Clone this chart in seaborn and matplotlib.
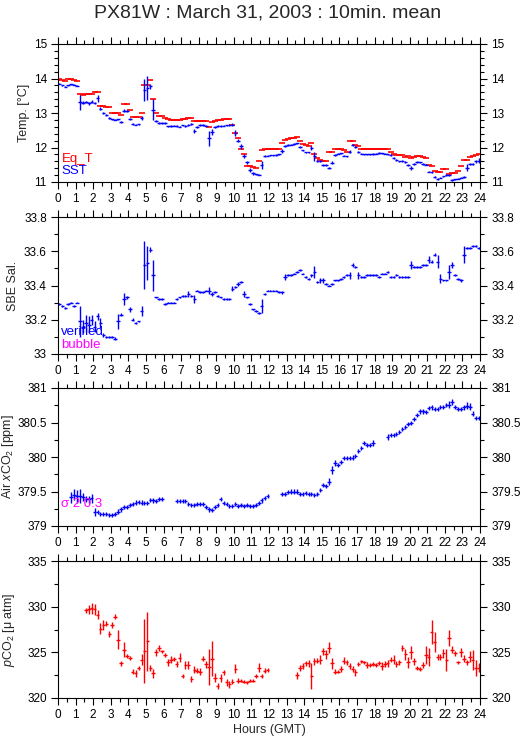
import numpy as np
import pandas as pd
import matplotlib
matplotlib.use("Agg")
import matplotlib.pyplot as plt
import seaborn as sns
from matplotlib.ticker import MultipleLocator

nan = np.nan

# 10-minute slots, one row per hour (6 values: hh:05 ... hh:55)
sst = [
    [13.85, 13.80, 13.76, 13.80, 13.83, 13.82],
    [13.79, 13.31, 13.30, 13.32, 13.28, 13.33],
    [13.29, 13.43, 13.13, 12.99, 12.95, 12.85],
    [12.82, 12.81, 12.82, 12.73, 13.07, 13.07],
    [12.82, 12.67, 12.66, 12.67, 12.85, 13.67],
    [13.72, 13.77, 13.10, 12.78, 12.71, 12.71],
    [12.71, 12.61, 12.62, 12.63, 12.62, 12.60],
    [12.64, 12.62, 12.66, 12.68, 12.48, 12.60],
    [12.65, 12.65, 12.63, 12.27, 12.45, 12.60],
    [12.62, 12.62, 12.63, 12.64, 12.65, 12.66],
    [12.42, 12.20, 12.03, 11.76, 11.57, 11.35],
    [11.25, 11.22, 11.21, 11.50, 11.76, 11.76],
    [11.77, 11.77, 11.78, 11.80, 11.90, 12.05],
    [12.07, 12.08, 12.10, 12.12, 12.02, 11.92],
    [11.86, 11.86, 11.98, 11.74, 11.62, 11.60],
    [11.50, 11.48, 11.40, 11.56, 11.78, 11.82],
    [11.83, 11.76, 11.74, 11.88, 12.07, 12.02],
    [11.88, 11.82, 11.80, 11.80, 11.80, 11.81],
    [11.82, 11.84, 11.83, 11.82, 11.80, 11.78],
    [11.70, 11.64, 11.60, 11.60, 11.58, 11.50],
    [11.40, 11.52, 11.57, 11.57, 11.52, 11.50],
    [11.30, 11.28, 11.15, 11.10, 11.13, 11.16],
    [11.20, 11.20, 11.07, 11.08, 11.10, 11.13],
    [11.14, 11.42, 11.52, 11.53, 11.60, 11.62],
]
sst_sd = [
    [.02, .02, .02, .02, .02, .02],
    [.02, .22, .05, .04, .04, .05],
    [.04, .10, .04, .03, .03, .03],
    [.02, .02, .02, .03, .05, .03],
    [.03, .03, .02, .02, .06, .32],
    [.35, .08, .30, .03, .03, .02],
    [.02, .02, .02, .02, .02, .02],
    [.02, .02, .03, .02, .06, .03],
    [.02, .02, .02, .22, .08, .03],
    [.02, .02, .02, .02, .02, .05],
    [.08, .05, .06, .06, .05, .05],
    [.04, .02, .02, .12, .03, .02],
    [.02, .02, .02, .02, .05, .03],
    [.02, .02, .02, .02, .02, .02],
    [.02, .02, .06, .12, .03, .03],
    [.03, .03, .03, .05, .04, .02],
    [.02, .02, .02, .05, .03, .03],
    [.03, .02, .02, .02, .02, .02],
    [.02, .02, .02, .02, .02, .02],
    [.02, .03, .02, .03, .03, .03],
    [.06, .03, .03, .02, .02, .02],
    [.02, .02, .03, .03, .02, .02],
    [.02, .02, .03, .02, .02, .02],
    [.03, .10, .04, .03, .04, .08],
]
eq_t = [
    [14.00, 13.95, 13.93, 14.00, 13.98, 13.97],
    [13.94, 13.55, 13.52, 13.55, 13.55, 13.55],
    [13.60, 13.60, 13.20, 13.20, 13.16, 13.16],
    [12.99, 13.01, 13.01, 12.94, 13.25, 13.25],
    [13.10, 12.88, 12.88, 12.88, 13.00, 13.80],
    [13.80, 13.95, 13.40, 13.00, 12.90, 12.90],
    [12.85, 12.83, 12.80, 12.80, 12.81, 12.80],
    [12.82, 12.82, 12.85, 12.85, 12.78, 12.78],
    [12.78, 12.76, 12.76, 12.58, 12.75, 12.78],
    [12.80, 12.80, 12.82, 12.82, 12.82, 12.65],
    [12.42, 12.27, 11.97, 11.80, 11.47, 11.45],
    [11.43, 11.42, 11.62, 11.93, 11.95, 11.95],
    [11.95, 11.95, 11.96, 11.97, 12.14, 12.22],
    [12.25, 12.27, 12.28, 12.30, 12.20, 12.10],
    [12.08, 12.04, 12.12, 11.81, 11.69, 11.65],
    [11.62, 11.62, 11.88, 11.88, 11.97, 11.97],
    [11.97, 11.92, 11.88, 12.20, 12.20, 12.08],
    [12.03, 11.95, 11.95, 11.95, 11.95, 11.97],
    [11.97, 11.97, 11.97, 11.97, 11.97, 11.88],
    [11.81, 11.78, 11.78, 11.78, 11.72, 11.76],
    [11.69, 11.72, 11.75, 11.75, 11.72, 11.69],
    [11.50, 11.45, 11.33, 11.28, 11.30, 11.37],
    [11.37, 11.23, 11.27, 11.27, 11.33, 11.45],
    [11.65, 11.65, 11.72, 11.76, 11.78, 11.81],
]
sal = [
    [33.29, 33.28, 33.27, 33.29, 33.30, 33.28],
    [33.30, 33.19, 33.16, 33.18, 33.17, 33.20],
    [33.16, 33.22, 33.18, 33.11, 33.10, 33.10],
    [33.10, 33.09, 33.19, 33.23, 33.32, 33.33],
    [33.26, 33.20, 33.18, 33.19, 33.25, 33.52],
    [33.53, 33.61, 33.46, 33.33, 33.32, 33.32],
    [33.29, 33.30, 33.30, 33.30, 33.32, 33.33],
    [33.34, 33.34, 33.35, 33.34, 33.32, 33.37],
    [33.36, 33.36, 33.37, 33.37, 33.35, 33.36],
    [33.34, 33.33, 33.32, 33.32, 33.32, 33.38],
    [33.39, 33.41, 33.42, 33.35, 33.33, 33.29],
    [33.26, 33.25, 33.24, 33.28, 33.35, 33.37],
    [33.37, 33.37, 33.37, 33.36, 33.36, 33.45],
    [33.46, 33.46, 33.47, 33.48, 33.49, 33.47],
    [33.45, 33.44, 33.46, 33.48, 33.42, 33.43],
    [33.43, 33.41, 33.40, 33.41, 33.43, 33.43],
    [33.44, 33.45, 33.46, 33.46, 33.52, 33.51],
    [33.46, 33.45, 33.45, 33.46, 33.46, 33.46],
    [33.46, 33.45, 33.47, 33.47, 33.48, 33.45],
    [33.45, 33.46, 33.45, 33.45, 33.45, 33.45],
    [33.52, 33.51, 33.51, 33.51, 33.52, 33.52],
    [33.55, 33.54, 33.58, 33.54, 33.44, 33.43],
    [33.43, 33.48, 33.52, 33.46, 33.44, 33.43],
    [33.58, 33.62, 33.62, 33.63, 33.63, 33.62],
]
sal_sd = [
    [.005, .005, .005, .005, .005, .005],
    [.005, .090, .040, .050, .050, .030],
    [.030, .020, .030, .010, .005, .005],
    [.005, .010, .045, .010, .035, .010],
    [.015, .010, .005, .005, .030, .140],
    [.100, .012, .090, .005, .005, .005],
    [.005, .005, .005, .005, .005, .005],
    [.005, .005, .020, .005, .025, .005],
    [.005, .005, .005, .020, .010, .005],
    [.005, .005, .005, .005, .005, .015],
    [.005, .010, .005, .020, .005, .005],
    [.005, .005, .005, .040, .005, .005],
    [.005, .005, .005, .005, .010, .015],
    [.005, .005, .005, .005, .005, .005],
    [.005, .005, .010, .035, .005, .015],
    [.015, .005, .005, .005, .005, .005],
    [.005, .005, .005, .020, .010, .005],
    [.020, .005, .005, .005, .005, .005],
    [.005, .005, .005, .005, .005, .005],
    [.005, .005, .005, .005, .005, .005],
    [.025, .005, .005, .005, .005, .005],
    [.020, .010, .010, .040, .025, .005],
    [.005, .040, .015, .005, .005, .010],
    [.050, .005, .005, .005, .005, .005],
]
air_xco2 = [
    [nan, nan, nan, nan, 379.42, 379.45],
    [379.43, 379.44, 379.42, 379.39, 379.39, 379.40],
    [379.20, 379.20, 379.18, 379.17, 379.17, 379.16],
    [379.16, 379.18, 379.21, 379.24, 379.27, 379.28],
    [379.30, 379.32, 379.34, 379.35, 379.34, 379.33],
    [379.33, 379.38, 379.37, 379.36, 379.39, 379.39],
    [nan, nan, nan, nan, 379.36, 379.36],
    [379.36, 379.36, 379.32, 379.31, 379.31, 379.32],
    [379.32, 379.32, 379.27, 379.24, 379.23, 379.28],
    [379.31, 379.39, 379.33, 379.32, 379.29, 379.29],
    [379.32, 379.29, 379.31, 379.29, 379.31, 379.29],
    [379.29, 379.31, 379.33, 379.37, 379.40, 379.43],
    [nan, nan, nan, nan, 379.46, 379.47],
    [379.49, 379.50, 379.50, 379.50, 379.47, 379.47],
    [379.48, 379.47, 379.47, 379.45, 379.47, 379.52],
    [379.59, 379.58, 379.64, 379.81, 379.91, 379.88],
    [379.93, 379.99, 379.99, 379.99, 379.99, 380.02],
    [380.09, 380.13, 380.20, 380.17, 380.17, 380.20],
    [nan, nan, nan, nan, 380.29, 380.32],
    [380.32, 380.33, 380.36, 380.40, 380.44, 380.48],
    [380.49, 380.55, 380.61, 380.66, 380.66, 380.65],
    [380.71, 380.72, 380.70, 380.70, 380.73, 380.73],
    [380.75, 380.76, 380.80, 380.73, 380.69, 380.69],
    [380.72, 380.74, 380.73, 380.63, 380.57, 380.57],
]
air_sd = [
    [nan, nan, nan, nan, .08, .08],
    [.09, .10, .06, .04, .05, .07],
    [.06, .03, .03, .03, .03, .03],
    [.03, .03, .03, .03, .03, .03],
    [.03, .03, .03, .03, .03, .03],
    [.03, .03, .03, .03, .03, .03],
    [nan, nan, nan, nan, .03, .03],
    [.03, .03, .03, .03, .03, .03],
    [.03, .03, .03, .03, .03, .03],
    [.03, .03, .03, .03, .03, .03],
    [.03, .03, .03, .03, .03, .03],
    [.03, .03, .03, .03, .03, .03],
    [nan, nan, nan, nan, .03, .03],
    [.03, .03, .03, .03, .03, .03],
    [.03, .03, .03, .03, .03, .03],
    [.03, .03, .05, .06, .04, .03],
    [.03, .03, .03, .03, .04, .03],
    [.03, .03, .03, .03, .03, .04],
    [nan, nan, nan, nan, .04, .03],
    [.03, .03, .03, .03, .03, .03],
    [.03, .03, .03, .04, .03, .03],
    [.03, .04, .03, .03, .03, .03],
    [.03, .05, .04, .03, .03, .03],
    [.04, .05, .05, .03, .03, .03],
]
pco2 = [
    [nan, nan, nan, nan, nan, nan],
    [nan, nan, nan, 329.6, 329.7, 329.8],
    [329.7, 329.1, 327.6, 328.0, 328.15, 327.0],
    [328.0, 328.9, 326.4, 323.8, 325.3, 324.6],
    [324.4, 322.9, 322.7, 323.3, 324.2, 325.1],
    [326.2, 323.3, 322.7, 325.0, 325.5, 325.1],
    [324.7, 323.9, 324.2, 324.3, 323.7, 324.4],
    [322.4, 323.6, 323.6, 322.1, 323.1, 323.0],
    [322.9, 324.3, 323.7, 323.4, 324.3, 322.2],
    [321.3, 322.2, 322.8, 321.7, 321.5, 321.8],
    [323.2, 321.9, 321.9, 321.8, 321.7, 321.9],
    [321.9, 322.4, 323.3, 322.4, 323.0, 323.1],
    [nan, nan, nan, nan, nan, nan],
    [nan, nan, nan, 322.5, 323.3, 323.5],
    [323.8, 323.8, 322.4, 324.0, 324.1, 324.2],
    [325.1, 324.8, 325.5, 323.8, 322.9, 322.9],
    [323.2, 324.1, 323.9, 323.5, 323.2, 322.8],
    [323.7, 324.0, 323.9, 323.6, 323.6, 323.7],
    [323.6, 323.8, 323.5, 323.7, 323.8, 324.2],
    [324.2, 323.7, 323.9, 325.5, 324.8, 323.9],
    [325.0, 324.0, 323.3, 323.2, 323.6, 324.7],
    [324.5, 327.2, 326.1, 324.5, 324.5, 324.9],
    [324.2, 326.6, 325.3, 324.9, 323.9, 325.0],
    [324.3, 323.9, 324.5, 324.2, 323.3, 323.3],
]
pco2_sd = [
    [nan, nan, nan, nan, nan, nan],
    [nan, nan, nan, .3, .5, .6],
    [.6, .5, .6, .5, .3, .3],
    [.3, .3, 1.0, .25, .8, .2],
    [.2, .3, .4, .2, .6, 3.5],
    [3.2, .3, .5, .4, .3, .2],
    [.2, .4, .4, .2, .3, .5],
    [.2, .4, .4, .3, .4, .3],
    [.4, .3, .4, 2.0, 1.9, .5],
    [.3, .4, .3, .4, .4, .3],
    [.5, .3, .2, .2, .2, .2],
    [.2, .2, .5, .2, .3, .2],
    [nan, nan, nan, nan, nan, nan],
    [nan, nan, nan, .4, .3, .3],
    [.3, .4, 1.4, .4, .3, .5],
    [.4, .5, .6, .6, .3, .2],
    [.3, .4, .3, .3, .3, .4],
    [.2, .2, .2, .3, .2, .2],
    [.2, .2, .4, .3, .4, .3],
    [.5, .3, .3, .3, .6, .6],
    [.7, .4, .2, .2, .3, 1.0],
    [1.0, 1.3, 1.1, .3, .3, .5],
    [1.2, .9, .4, .3, .2, .5],
    [.4, .3, .6, 1.1, .9, .5],
]

hours = (np.arange(144) + 0.5) / 6.0
df = pd.DataFrame({
    "hour": hours,
    "sst": np.ravel(sst), "sst_sd": np.ravel(sst_sd), "eq_t": np.ravel(eq_t),
    "sal": np.ravel(sal), "sal_sd": np.ravel(sal_sd),
    "air": np.ravel(air_xco2), "air_sd": np.ravel(air_sd),
    "pco2": np.ravel(pco2), "pco2_sd": np.ravel(pco2_sd),
})

sns.set_style("ticks")
plt.rcParams['font.family'] = ['Liberation Sans', 'DejaVu Sans']
plt.rcParams['mathtext.fontset'] = 'custom'
plt.rcParams['mathtext.rm'] = 'Liberation Sans'
plt.rcParams['mathtext.it'] = 'Liberation Sans:italic'

W, H = 529, 739
fig = plt.figure(figsize=(W / 100, H / 100), dpi=100)

# panel boxes in pixels: (top, bottom)
boxes = [(44, 182), (217, 354), (388, 526), (561, 698)]
x0, x1 = 58, 480
axes = []
for top, bot in boxes:
    ax = fig.add_axes([x0 / W, 1 - bot / H, (x1 - x0) / W, (bot - top) / H])
    axes.append(ax)

XW = 0.1  # half width of the 10-min bar (hours)
BLUE, RED, MAG = '#0000ff', '#ff0000', '#ff00ff'


def style(ax, ylim, major, minor, ylabel, lab_x, fmt):
    ax.set_xlim(0, 24)
    ax.set_ylim(*ylim)
    ax.xaxis.set_major_locator(MultipleLocator(1))
    ax.xaxis.set_minor_locator(MultipleLocator(0.5))
    ax.yaxis.set_major_locator(MultipleLocator(major))
    ax.yaxis.set_minor_locator(MultipleLocator(minor))
    ax.yaxis.set_major_formatter(plt.FuncFormatter(lambda v, p: fmt(v)))
    ax.tick_params(which='both', direction='out', top=True, right=True,
                   labelright=True, labelsize=8.5, width=0.8, color='black',
                   labelcolor='black')
    ax.tick_params(which='major', length=5, pad=3)
    ax.tick_params(which='minor', length=3)
    for s in ax.spines.values():
        s.set_linewidth(0.8)
        s.set_color('black')
    ax.set_ylabel(ylabel, fontsize=9)
    ax.yaxis.set_label_coords(lab_x, 0.5)
    ax.set_xlabel('')


def gfmt(v):
    s = f"{v:.1f}"
    return s[:-2] if s.endswith('.0') else s


# Temperature panel
ax = axes[0]
ax.errorbar(df.hour, df.sst, yerr=df.sst_sd, xerr=XW, fmt='none',
            ecolor=BLUE, elinewidth=1.0)
sns.scatterplot(x=df.hour, y=df.eq_t, marker='_', s=16, color=RED,
                linewidth=1.2, ax=ax, legend=False)
style(ax, (11, 15), 1, 0.2, 'Temp. [°C]', -0.066, gfmt)
ax.text(0.008, 0.17, 'Eq_T', color=RED, fontsize=9.5, transform=ax.transAxes,
        va='center')
ax.text(0.008, 0.08, 'SST', color=BLUE, fontsize=9.5, transform=ax.transAxes,
        va='center')

# Salinity panel
ax = axes[1]
ax.errorbar(df.hour, df.sal, yerr=df.sal_sd, xerr=XW, fmt='none',
            ecolor=BLUE, elinewidth=1.0)
style(ax, (33, 33.8), 0.2, 0.1, 'SBE Sal.', -0.092, gfmt)
ax.text(0.008, 0.16, 'verified', color=BLUE, fontsize=9.5,
        transform=ax.transAxes, va='center')
ax.text(0.008, 0.066, 'bubble', color=MAG, fontsize=9.5,
        transform=ax.transAxes, va='center')

# Air xCO2 panel
ax = axes[2]
ax.errorbar(df.hour, df.air, yerr=df.air_sd, xerr=XW, fmt='none',
            ecolor=BLUE, elinewidth=1.0)
style(ax, (379, 381), 0.5, 0.25, 'Air $x$CO$_2$ [ppm]', -0.100, gfmt)
ax.text(0.008, 0.16, 'σ 2 0.3', color=MAG, fontsize=9.5,
        transform=ax.transAxes, va='center')

# pCO2 panel
ax = axes[3]
ax.errorbar(df.hour, df.pco2, yerr=df.pco2_sd, xerr=XW, fmt='none',
            ecolor=RED, elinewidth=1.0)
style(ax, (320, 335), 5, 2.5, '$p$CO$_2$ [μ atm]', -0.098, gfmt)
ax.set_xlabel('Hours (GMT)', fontsize=9, labelpad=2)

fig.text(268 / W, 1 - 13 / H, 'PX81W : March 31, 2003 : 10min. mean',
         ha='center', va='center', fontsize=14)

fig.savefig('out.png', dpi=100)
